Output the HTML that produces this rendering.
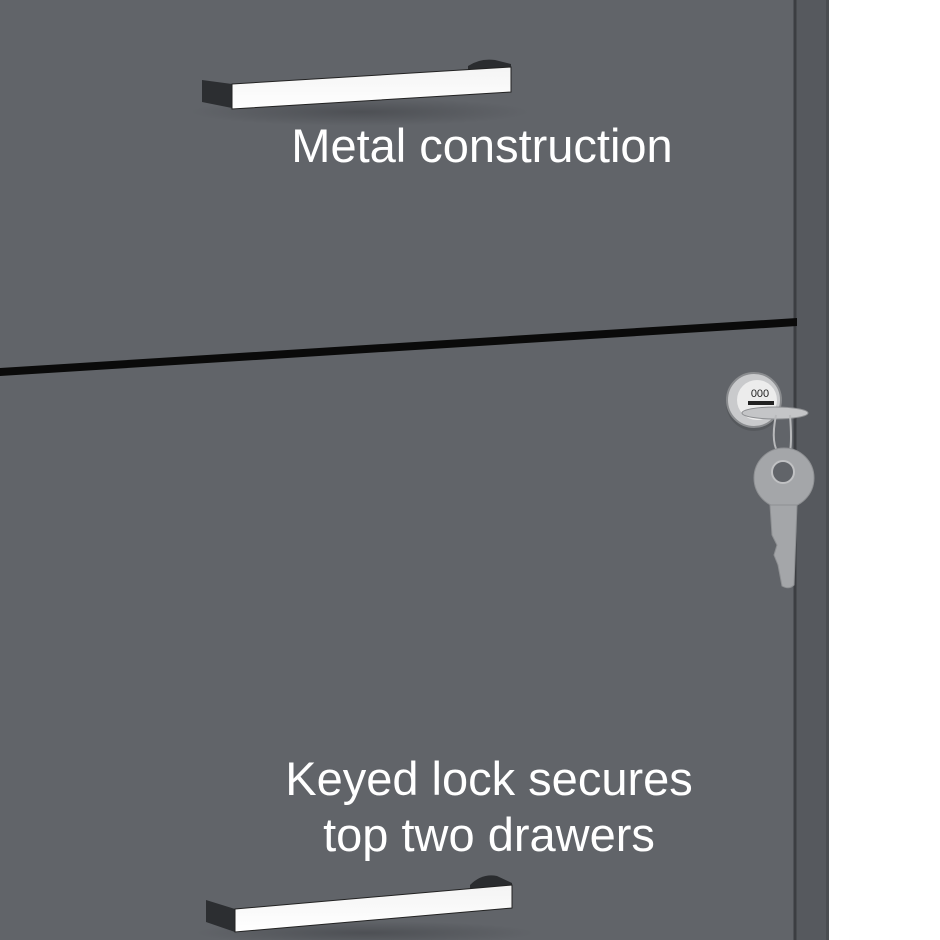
<!DOCTYPE html>
<html><head><style>html,body{margin:0;padding:0;background:#fff}svg{display:block}</style></head>
<body>
<svg width="940" height="940" viewBox="0 0 940 940" xmlns="http://www.w3.org/2000/svg">
<defs>
<radialGradient id="sh" cx="0.5" cy="0.5" r="0.5"><stop offset="0" stop-color="#3a3c40" stop-opacity="0.5"/><stop offset="1" stop-color="#3a3c40" stop-opacity="0"/></radialGradient>
<linearGradient id="chrome" x1="0" y1="0" x2="0" y2="1"><stop offset="0" stop-color="#f4f4f4"/><stop offset="1" stop-color="#ffffff"/></linearGradient>
</defs>
<rect x="0" y="0" width="940" height="940" fill="#ffffff"/>
<rect x="0" y="0" width="829" height="940" fill="#616469"/>
<rect x="795" y="0" width="34" height="940" fill="#56595e"/>
<rect x="826" y="0" width="3" height="940" fill="#4a4d51"/>
<line x1="795" y1="0" x2="795" y2="940" stroke="#3c3e42" stroke-width="3"/>
<polygon points="0,368 797,318 797,326 0,376" fill="#0a0a0a"/>
<ellipse cx="360" cy="112" rx="170" ry="14" fill="url(#sh)"/>
<polygon points="202,80 232,84 232,108 202,102" fill="#2c2e31"/>
<path d="M468,66 Q480,58 495,60 L511,64 L511,70 L468,72 Z" fill="#2a2c2f"/>
<polygon points="232,84 511,67 511,92 232,109" fill="url(#chrome)" stroke="#222" stroke-width="1"/>
<ellipse cx="365" cy="933" rx="170" ry="12" fill="url(#sh)"/>
<polygon points="206,900 235,909 235,932 206,922" fill="#2c2e31"/>
<path d="M470,885 Q482,873 497,876 L512,883 L512,888 L470,890 Z" fill="#2a2c2f"/>
<polygon points="235,909 512,885 512,908 235,932" fill="url(#chrome)" stroke="#222" stroke-width="1"/>
<!-- lock -->
<circle cx="754" cy="403" r="28" fill="#4b4e52" opacity="0.5"/>
<circle cx="754" cy="400" r="27" fill="#c9cacc" stroke="#8a8c8f" stroke-width="2"/>
<circle cx="757" cy="400" r="20" fill="#ececec"/>
<text x="760" y="397" font-family="Liberation Sans, sans-serif" font-size="11" text-anchor="middle" fill="#222">000</text>
<rect x="748" y="401" width="26" height="4" fill="#222"/>
<ellipse cx="775" cy="413" rx="33" ry="6" fill="#c4c5c7" stroke="#8d8f92"/>
<path d="M776,415 Q770,445 780,455 M790,415 Q792,440 790,452" stroke="#b8b9bb" stroke-width="2" fill="none"/>
<!-- key -->
<circle cx="784" cy="478" r="30" fill="#a4a6a9" stroke="#8e9093"/>
<circle cx="783" cy="472" r="11" fill="#616469" stroke="#c0c1c3" stroke-width="2"/>
<path d="M770,505 L797,505 L794,585 Q789,590 782,586 L778,565 L774,555 L777,545 L772,535 Z" fill="#a4a6a9" stroke="#8e9093"/>
<g font-family="Liberation Sans, sans-serif" font-size="47" fill="#ffffff" text-anchor="middle">
<text x="482" y="162">Metal construction</text>
<text x="489" y="795">Keyed lock secures</text>
<text x="489" y="851">top two drawers</text>
</g>
</svg>
</body></html>
